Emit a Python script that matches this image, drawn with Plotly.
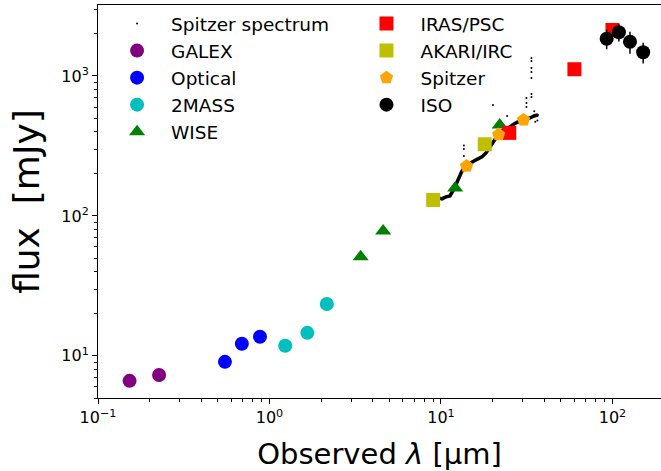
import math
import plotly.graph_objects as go

# ---------------- data ----------------
spec_wl = [9.60, 10.13, 10.69, 11.28, 11.91, 12.57, 13.26, 13.99, 14.76, 15.57,
           16.43, 17.34, 18.30, 19.31, 20.37, 21.50, 22.68, 23.93, 25.26, 26.65,
           28.12, 29.67, 31.31, 33.04, 34.86, 36.78]
spec_flux = [134.5, 132.3, 136.7, 139.0, 156.0, 180.8, 209.6, 227.6, 239.1, 247.1,
             255.4, 263.9, 281.8, 311.1, 349.1, 378.8, 404.7, 418.2, 432.3, 454.1,
             469.4, 477.1, 493.2, 501.2, 518.0, 526.6]
# scattered (noisy) spectrum points
noise_wl = [33.7, 33.7, 33.7, 33.7, 33.7, 33.7, 33.7, 31.5, 31.5, 31.5,
            13.6, 13.6, 13.6, 20.1, 24.3, 35.5, 36.5, 35.0]
noise_flux = [1345, 1280, 1141, 1068, 968, 744, 708, 697, 641, 601,
              318, 301, 268, 621, 518, 470, 480, 560]

galex_wl = [0.1528, 0.2271]
galex_flux = [6.63, 7.3]
opt_wl = [0.55, 0.69, 0.88]
opt_flux = [9.06, 12.2, 13.7]
tmass_wl = [1.235, 1.662, 2.159]
tmass_flux = [11.8, 14.6, 23.5]
wise_wl = [3.4, 4.6, 12.1, 22.0]
wise_flux = [51.0, 78.0, 158.0, 447.0]
iras_wl = [25.0, 60.0, 100.0]
iras_flux = [392.0, 1117.0, 2131.0]
akari_wl = [9.0, 18.0]
akari_flux = [130.0, 325.0]
spitzer_wl = [14.1, 21.7, 30.3]
spitzer_flux = [227.0, 381.0, 485.0]
iso_wl = [92.5, 109.0, 126.5, 151.0]
iso_flux = [1846.0, 2052.0, 1757.0, 1476.0]
iso_err = [295.0, 287.0, 316.0, 251.0]

x_tickvals = [0.1, 1, 10, 100]
x_ticktext = ["10<sup>−1</sup>", "10<sup>0</sup>", "10<sup>1</sup>", "10<sup>2</sup>"]
y_tickvals = [10, 100, 1000]
y_ticktext = ["10<sup>1</sup>", "10<sup>2</sup>", "10<sup>3</sup>"]

FONT = "DejaVu Sans"

fig = go.Figure()

# spectrum band (line) + points
fig.add_trace(go.Scatter(x=spec_wl, y=spec_flux, mode="lines",
                         line=dict(color="black", width=3.5),
                         showlegend=False, legendgroup="spec", hoverinfo="skip"))
fig.add_trace(go.Scatter(x=spec_wl + noise_wl, y=spec_flux + noise_flux, mode="markers",
                         marker=dict(color="black", size=2),
                         name="Spitzer spectrum", legendgroup="spec", legend="legend"))

def phot(x, y, name, color, symbol, size, leg, err=None):
    tr = go.Scatter(x=x, y=y, mode="markers", name=name, legend=leg,
                    marker=dict(color=color, symbol=symbol, size=size, line=dict(width=0)))
    if err is not None:
        tr.error_y = dict(type="data", array=err, visible=True, color="black",
                          thickness=1.5, width=0)
    fig.add_trace(tr)

phot(galex_wl, galex_flux, "GALEX", "#800080", "circle", 14, "legend")
phot(opt_wl, opt_flux, "Optical", "#0000ff", "circle", 14, "legend")
phot(tmass_wl, tmass_flux, "2MASS", "#00bfbf", "circle", 14, "legend")
phot(wise_wl, wise_flux, "WISE", "#008000", "triangle-up", 14, "legend")
phot(iras_wl, iras_flux, "IRAS/PSC", "#ff0000", "square", 14, "legend2")
phot(akari_wl, akari_flux, "AKARI/IRC", "#bfbf00", "square", 14, "legend2")
phot(spitzer_wl, spitzer_flux, "Spitzer", "#ffa500", "pentagon", 14, "legend2")
phot(iso_wl, iso_flux, "ISO", "black", "circle", 14, "legend2", err=iso_err)

minor_vals = [m * 10.0 ** e for e in range(-2, 4) for m in range(2, 10)]

axis_common = dict(
    type="log", showline=True, linecolor="black", linewidth=1.1,
    ticks="outside", ticklen=5, tickwidth=1.1, tickcolor="black",
    showgrid=False, zeroline=False,
    tickfont=dict(family=FONT, size=16, color="black"),
    minor=dict(tickmode="array", tickvals=minor_vals, ticks="outside",
               ticklen=3, tickwidth=0.8, tickcolor="black", showgrid=False),
)

fig.update_layout(
    width=661, height=471,
    margin=dict(l=98, r=0, t=5, b=73),
    paper_bgcolor="white", plot_bgcolor="white",
    font=dict(family=FONT, color="black"),
    xaxis=dict(axis_common, range=[-1, 2.283], mirror=True,
               tickmode="array", tickvals=x_tickvals, ticktext=x_ticktext,
               title=dict(text="Observed <i>λ</i> [μm]", font=dict(family=FONT, size=29),
                          standoff=17)),
    yaxis=dict(axis_common, range=[math.log10(5), 3.507], mirror=False,
               tickmode="array", tickvals=y_tickvals, ticktext=y_ticktext,
               title=dict(text="flux  [mJy]", font=dict(family=FONT, size=36),
                          standoff=10)),
    legend=dict(x=0.009, y=1.0, xanchor="left", yanchor="top", bgcolor="rgba(0,0,0,0)",
                font=dict(family=FONT, size=18.5), itemwidth=58, tracegroupgap=0),
    legend2=dict(x=0.452, y=1.0, xanchor="left", yanchor="top", bgcolor="rgba(0,0,0,0)",
                 font=dict(family=FONT, size=18.5), itemwidth=58, tracegroupgap=0),
)

fig.write_html("out.html")
